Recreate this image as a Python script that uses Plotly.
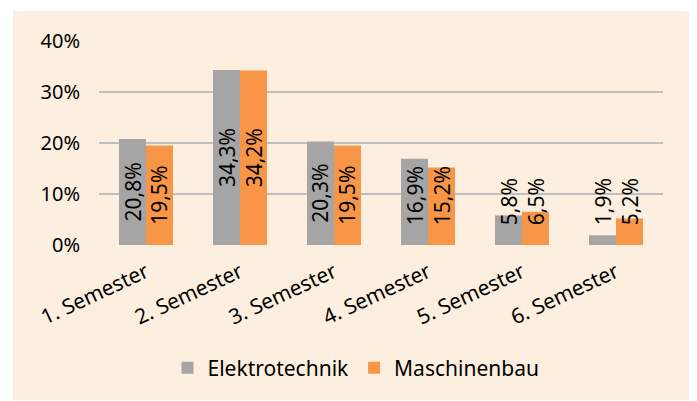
import plotly.graph_objects as go

categories = ["1. Semester", "2. Semester", "3. Semester", "4. Semester", "5. Semester", "6. Semester"]
elektro = [0.208, 0.343, 0.203, 0.169, 0.058, 0.019]
maschinen = [0.195, 0.342, 0.195, 0.152, 0.065, 0.052]
series_names = ["Elektrotechnik", "Maschinenbau"]
colors = ["#A5A5A5", "#F79646"]
y_ticks = [0, 0.1, 0.2, 0.3, 0.4]
y_ticklabels = ["0%", "10%", "20%", "30%", "40%"]

FONT = "Noto Sans"
PAD = 8  # page body margin
W, H = 697 - PAD, 401 - PAD
ML, MR, MT, MB = 99 - PAD, 34, 41 - PAD, 156
plot_w = W - ML - MR
plot_h = H - MT - MB
bargap = 0.4255

fig = go.Figure()
for name, vals, col in zip(series_names, [elektro, maschinen], colors):
    fig.add_trace(go.Bar(x=categories, y=vals, name=name, marker=dict(color=col, line=dict(width=0)),
                         hoverinfo="skip"))


def fmt(v):
    return ("%.1f%%" % (v * 100)).replace(".", ",")


half = (1 - bargap) / 4
for k, vals in enumerate([elektro, maschinen]):
    off = -half if k == 0 else half
    for i, v in enumerate(vals):
        if v / 2 - 0.061 >= 0.035:
            y, ya = v / 2, "middle"
        else:
            y, ya = 0.035, "bottom"
        fig.add_annotation(x=i + off, y=y, xref="x", yref="y", text=fmt(v), showarrow=False,
                           textangle=-90, yanchor=ya, xanchor="center",
                           font=dict(family=FONT, size=21, color="#000000"))

base_px = H - MB
fig.add_shape(type="rect", xref="paper", yref="paper",
              x0=(13 - PAD - ML) / plot_w, x1=(693 - PAD - ML) / plot_w,
              y0=-(400 - PAD - base_px) / plot_h, y1=(base_px - (11 - PAD)) / plot_h,
              fillcolor="#FDEFDF", line=dict(width=0), layer="below")

fig.update_layout(
    width=W, height=H,
    margin=dict(l=ML, r=MR, t=MT, b=MB, autoexpand=False),
    paper_bgcolor="#FFFFFF", plot_bgcolor="rgba(0,0,0,0)",
    barmode="group", bargap=bargap, bargroupgap=0,
    font=dict(family=FONT, color="#000000"),
    xaxis=dict(showgrid=False, zeroline=False, showline=False, ticks="",
               tickangle=-25, tickfont=dict(family=FONT, size=21, color="#000000"),
               ticklabelstandoff=10, automargin=False),
    yaxis=dict(range=[0, 0.4], tickvals=y_ticks, ticktext=y_ticklabels, showgrid=True,
               gridcolor="#BFBFBF", gridwidth=2, zeroline=False, showline=False,
               tickfont=dict(family=FONT, size=20, color="#000000"), ticklabelstandoff=18,
               automargin=False),
    legend=dict(orientation="h", x=(356 - PAD - ML) / plot_w, xanchor="center",
                y=-(368 - PAD - base_px) / plot_h, yanchor="middle",
                font=dict(family=FONT, size=21, color="#000000"),
                bgcolor="rgba(0,0,0,0)", itemwidth=30, traceorder="normal"),
    showlegend=True,
)

fig.write_html("out.html")
